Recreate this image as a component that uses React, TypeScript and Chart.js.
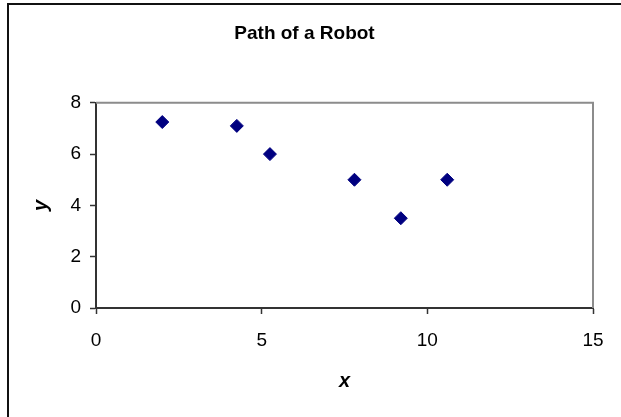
import React, { useEffect, useRef } from "react";
import { Chart, registerables } from "chart.js";

Chart.register(...registerables);

const xValues = [2, 4.25, 5.25, 7.8, 9.2, 10.6];
const yValues = [7.25, 7.1, 6, 5, 3.5, 5];
const chartTitle = "Path of a Robot";
const xAxisTitle = "x";
const yAxisTitle = "y";
const xTickRange = [0, 15];
const xTickStep = 5;
const yTickRange = [0, 8];
const yTickStep = 2;

const FONT = "'Liberation Sans', Arial, sans-serif";

const plotFrame = {
  id: "plotFrame",
  beforeDatasetsDraw(chart: any) {
    const { ctx, chartArea } = chart;
    ctx.save();
    ctx.strokeStyle = "#8c8c8c";
    ctx.lineWidth = 2;
    ctx.beginPath();
    ctx.moveTo(chartArea.left, chartArea.top);
    ctx.lineTo(chartArea.right, chartArea.top);
    ctx.lineTo(chartArea.right, chartArea.bottom);
    ctx.stroke();
    ctx.restore();
  },
};

export default function App() {
  const ref = useRef<HTMLCanvasElement | null>(null);

  useEffect(() => {
    if (!ref.current) return;
    const points = xValues.map((x, i) => ({ x, y: yValues[i] }));
    const chart = new Chart(ref.current, {
      type: "scatter",
      data: {
        datasets: [
          {
            data: points,
            pointStyle: "rectRot",
            pointRadius: 6.5,
            pointHoverRadius: 6.5,
            pointBackgroundColor: "#000080",
            pointBorderColor: "#000080",
            pointBorderWidth: 1,
            showLine: false,
          },
        ],
      },
      options: {
        responsive: false,
        animation: false,
        events: [],
        layout: { padding: { left: 7, right: 37, top: 0, bottom: 0 } },
        plugins: {
          legend: { display: false },
          tooltip: { enabled: false },
          title: {
            display: true,
            text: chartTitle,
            color: "#000",
            font: { family: FONT, size: 19, weight: "bold" },
            padding: { top: 17, bottom: 58 },
          },
        },
        scales: {
          x: {
            type: "linear",
            min: xTickRange[0],
            max: xTickRange[1],
            ticks: {
              stepSize: xTickStep,
              color: "#000",
              font: { family: FONT, size: 19 },
              padding: 15,
              maxRotation: 0,
            },
            grid: {
              display: true,
              drawOnChartArea: false,
              drawTicks: true,
              tickLength: 6,
              tickColor: "#333",
              tickWidth: 1.5,
            },
            border: { display: true, color: "#333", width: 2 },
            title: {
              display: true,
              text: xAxisTitle,
              color: "#000",
              font: { family: FONT, size: 20, weight: "bold", style: "italic" },
              padding: { top: 0, bottom: 42 },
            },
            afterFit: (s: any) => {
              s.height = 127;
              s.paddingLeft = 0;
              s.paddingRight = 0;
            },
          },
          y: {
            type: "linear",
            min: yTickRange[0],
            max: yTickRange[1],
            ticks: {
              stepSize: yTickStep,
              color: "#000",
              font: { family: FONT, size: 19 },
              padding: 9,
            },
            grid: {
              display: true,
              drawOnChartArea: false,
              drawTicks: true,
              tickLength: 6,
              tickColor: "#333",
              tickWidth: 1.5,
            },
            border: { display: true, color: "#333", width: 2 },
            title: {
              display: true,
              text: yAxisTitle,
              color: "#000",
              font: { family: FONT, size: 20, weight: "bold", style: "italic" },
              padding: { top: 13, bottom: 0 },
            },
            afterFit: (s: any) => {
              s.width = 80;
              s.paddingTop = 0;
              s.paddingBottom = 0;
            },
          },
        },
      },
      plugins: [plotFrame],
    });
    return () => chart.destroy();
  }, []);

  return (
    <div
      style={{
        position: "fixed",
        left: 0,
        top: 0,
        width: 621,
        height: 417,
        overflow: "hidden",
        background: "#fff",
      }}
    >
      <div
        style={{
          position: "absolute",
          left: 7,
          top: 3,
          borderLeft: "2px solid #111",
          borderTop: "2px solid #111",
          width: 621,
          height: 430,
        }}
      >
        <canvas ref={ref} width={621} height={430} style={{ display: "block", width: 621, height: 430 }} />
      </div>
    </div>
  );
}
